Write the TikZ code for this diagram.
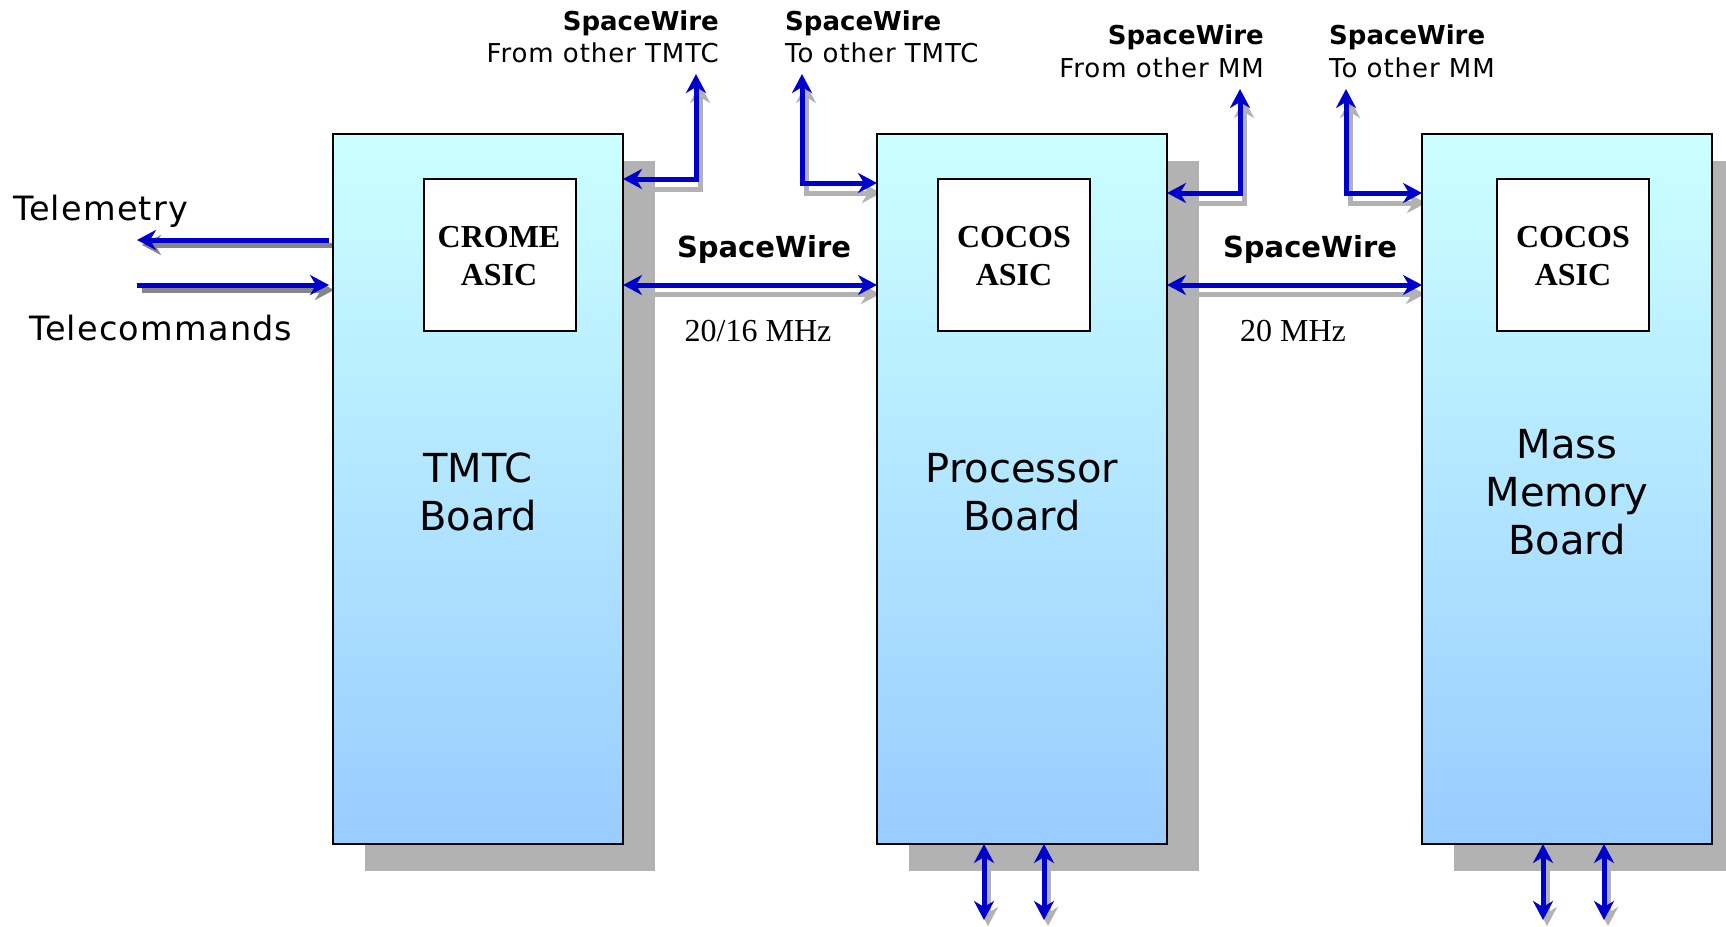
\documentclass[tikz,border=0pt]{standalone}
\usepackage{fontspec}
\setmainfont{Liberation Serif}
\setsansfont{DejaVu Sans}
\newfontfamily\widesans[LetterSpace=3.6]{DejaVu Sans}
\usetikzlibrary{arrows.meta,calc}
\definecolor{wireblue}{HTML}{0000CC}
\definecolor{shadowgray}{HTML}{B2B2B2}
\definecolor{shadowdark}{HTML}{858585}
\definecolor{boardtop}{HTML}{CCFFFF}
\definecolor{boardbot}{HTML}{99CCFF}
\begin{document}
\begin{tikzpicture}[x=1pt,y=-1pt,
  >={Stealth[length=19pt,width=20pt,inset=6pt]},
  board/.style={draw=black, line width=2pt, minimum width=290pt, minimum height=710pt,
    inner sep=0pt, outer sep=0pt, top color=boardtop, bottom color=boardbot},
  boardshadow/.style={fill=shadowgray, draw=none, minimum width=290pt, minimum height=710pt,
    inner sep=0pt, outer sep=0pt},
  asic/.style={draw=black, line width=2pt, fill=white, minimum width=152pt, minimum height=152pt,
    inner sep=0pt, outer sep=0pt},
  wire/.style={draw=wireblue, line width=5pt},
  wshadow/.style={draw=shadowgray, line width=5pt},
  wshadowdark/.style={draw=shadowdark, line width=5pt},
  toplab/.style={inner sep=0pt, font=\widesans\fontsize{26}{30}\selectfont},
  toplabb/.style={inner sep=0pt, font=\sffamily\bfseries\fontsize{26}{30}\selectfont},
  midlab/.style={inner sep=0pt, font=\sffamily\bfseries\fontsize{29}{33}\selectfont},
  freqlab/.style={inner sep=0pt, font=\rmfamily\fontsize{32}{36}\selectfont},
  sidelab/.style={inner sep=0pt, font=\widesans\fontsize{33.5}{38}\selectfont},
  boardlab/.style={inner sep=0pt, font=\sffamily\fontsize{40}{48}\selectfont},
  asiclab/.style={inner sep=0pt, font=\rmfamily\bfseries\fontsize{32}{38}\selectfont},
]
\clip (0,0) rectangle (1726,926);
\fill[white] (0,0) rectangle (1726,926);

% board shadows
\node[boardshadow] (tmtcsh) at (510,516) {};
\node[boardshadow] (procsh) at (1054,516) {};
\node[boardshadow] (mmsh) at (1599,516) {};

% free ends of connectors
\coordinate (tf) at (696,74);
\coordinate (tt) at (802,74);
\coordinate (mf) at (1240,89);
\coordinate (mt) at (1346,89);
\coordinate (telend) at (137,240);
\coordinate (tcstart) at (137,285);
\coordinate (pb1) at (984,920);
\coordinate (pb2) at (1044,920);
\coordinate (mb1) at (1543,920);
\coordinate (mb2) at (1604,920);

% boards (positions needed for anchors)
\path (478,489) node[boardshadow, fill=none] (tmtc) {}
      (1022,489) node[boardshadow, fill=none] (proc) {}
      (1567,489) node[boardshadow, fill=none] (mm) {};

% connector shadows
\begin{scope}[transform canvas={shift={(4pt,-10pt)}}]
\draw[wshadow,<->] (tf) |- ($(tmtc.north east)+(0,45)$);
\draw[wshadow,<->] (tt) |- ($(proc.north west)+(0,49)$);
\draw[wshadow,<->] (mf) |- ($(proc.north east)+(0,59)$);
\draw[wshadow,<->] (mt) |- ($(mm.north west)+(0,59)$);
\end{scope}
\begin{scope}[transform canvas={shift={(3pt,-9pt)}}]
\draw[wshadow,<->] ($(tmtc.north east)+(0,151)$) -- ($(proc.north west)+(0,151)$);
\draw[wshadow,<->] ($(proc.north east)+(0,151)$) -- ($(mm.north west)+(0,151)$);
\end{scope}
\begin{scope}[transform canvas={shift={(5pt,-5pt)}}]
\draw[wshadowdark,->] ($(tmtc.north west)+(-4,106)$) -- (telend);
\draw[wshadowdark,->] (tcstart) -- ($(tmtc.north west)+(-4,151)$);
\end{scope}
\begin{scope}[transform canvas={shift={(4pt,-6pt)}}]
\draw[wshadow,<->] ($(proc.south west)+(107,0)$) -- (pb1);
\draw[wshadow,<->] ($(proc.south west)+(167,0)$) -- (pb2);
\draw[wshadow,<->] ($(mm.south west)+(121,0)$) -- (mb1);
\draw[wshadow,<->] ($(mm.south west)+(182,0)$) -- (mb2);
\end{scope}

% boards
\node[board] (tmtcb) at (tmtc) {};
\node[board] (procb) at (proc) {};
\node[board] (mmb) at (mm) {};

% ASICs
\node[asic] (crome) at (500,255) {};
\node[asic] (cocosa) at (1014,255) {};
\node[asic] (cocosb) at (1573,255) {};

% connectors
\draw[wire,<->] (tf) |- ($(tmtc.north east)+(0,45)$);
\draw[wire,<->] (tt) |- ($(proc.north west)+(0,49)$);
\draw[wire,<->] (mf) |- ($(proc.north east)+(0,59)$);
\draw[wire,<->] (mt) |- ($(mm.north west)+(0,59)$);
\draw[wire,<->] ($(tmtc.north east)+(0,151)$) -- ($(proc.north west)+(0,151)$);
\draw[wire,<->] ($(proc.north east)+(0,151)$) -- ($(mm.north west)+(0,151)$);
\draw[wire,->] ($(tmtc.north west)+(-4,106)$) -- (telend);
\draw[wire,->] (tcstart) -- ($(tmtc.north west)+(-4,151)$);
\draw[wire,<->] ($(proc.south west)+(107,0)$) -- (pb1);
\draw[wire,<->] ($(proc.south west)+(167,0)$) -- (pb2);
\draw[wire,<->] ($(mm.south west)+(121,0)$) -- (mb1);
\draw[wire,<->] ($(mm.south west)+(182,0)$) -- (mb2);

% top labels
\node[toplabb, anchor=base east] (l1a) at (719,30) {SpaceWire};
\node[toplab, anchor=base east] (l1b) at (719,62) {From other TMTC};
\node[toplabb, anchor=base west] (l2a) at (785,30) {SpaceWire};
\node[toplab, anchor=base west] (l2b) at (785,62) {To other TMTC};
\node[toplabb, anchor=base east] (l3a) at (1264,44) {SpaceWire};
\node[toplab, anchor=base east] (l3b) at (1264,77) {From other MM};
\node[toplabb, anchor=base west] (l4a) at (1329,44) {SpaceWire};
\node[toplab, anchor=base west] (l4b) at (1329,77) {To other MM};

% link labels
\node[midlab, anchor=base] (sw1) at (764,257) {SpaceWire};
\node[freqlab, anchor=base] (f1) at (758,341) {20/16 MHz};
\node[midlab, anchor=base] (sw2) at (1310,257) {SpaceWire};
\node[freqlab, anchor=base] (f2) at (1293,341) {20 MHz};

% side labels
\node[sidelab, anchor=base west] (tel) at (13,220) {Telemetry};
\node[sidelab, anchor=base west] (tc) at (29,340) {Telecommands};

% board labels
\node[boardlab, anchor=base] (t1) at (478,482) {TMTC};
\node[boardlab, anchor=base] (t2) at (478,530) {Board};
\node[boardlab, anchor=base] (p1) at (1022,482) {Processor};
\node[boardlab, anchor=base] (p2) at (1022,530) {Board};
\node[boardlab, anchor=base] (m1) at (1567,458) {Mass};
\node[boardlab, anchor=base] (m2) at (1567,506) {Memory};
\node[boardlab, anchor=base] (m3) at (1567,554) {Board};

% ASIC labels
\node[asiclab, anchor=base] (c1) at (499,247) {CROME};
\node[asiclab, anchor=base] (c2) at (499,285) {ASIC};
\node[asiclab, anchor=base] (c3) at (1014,247) {COCOS};
\node[asiclab, anchor=base] (c4) at (1014,285) {ASIC};
\node[asiclab, anchor=base] (c5) at (1573,247) {COCOS};
\node[asiclab, anchor=base] (c6) at (1573,285) {ASIC};
\end{tikzpicture}
\end{document}
